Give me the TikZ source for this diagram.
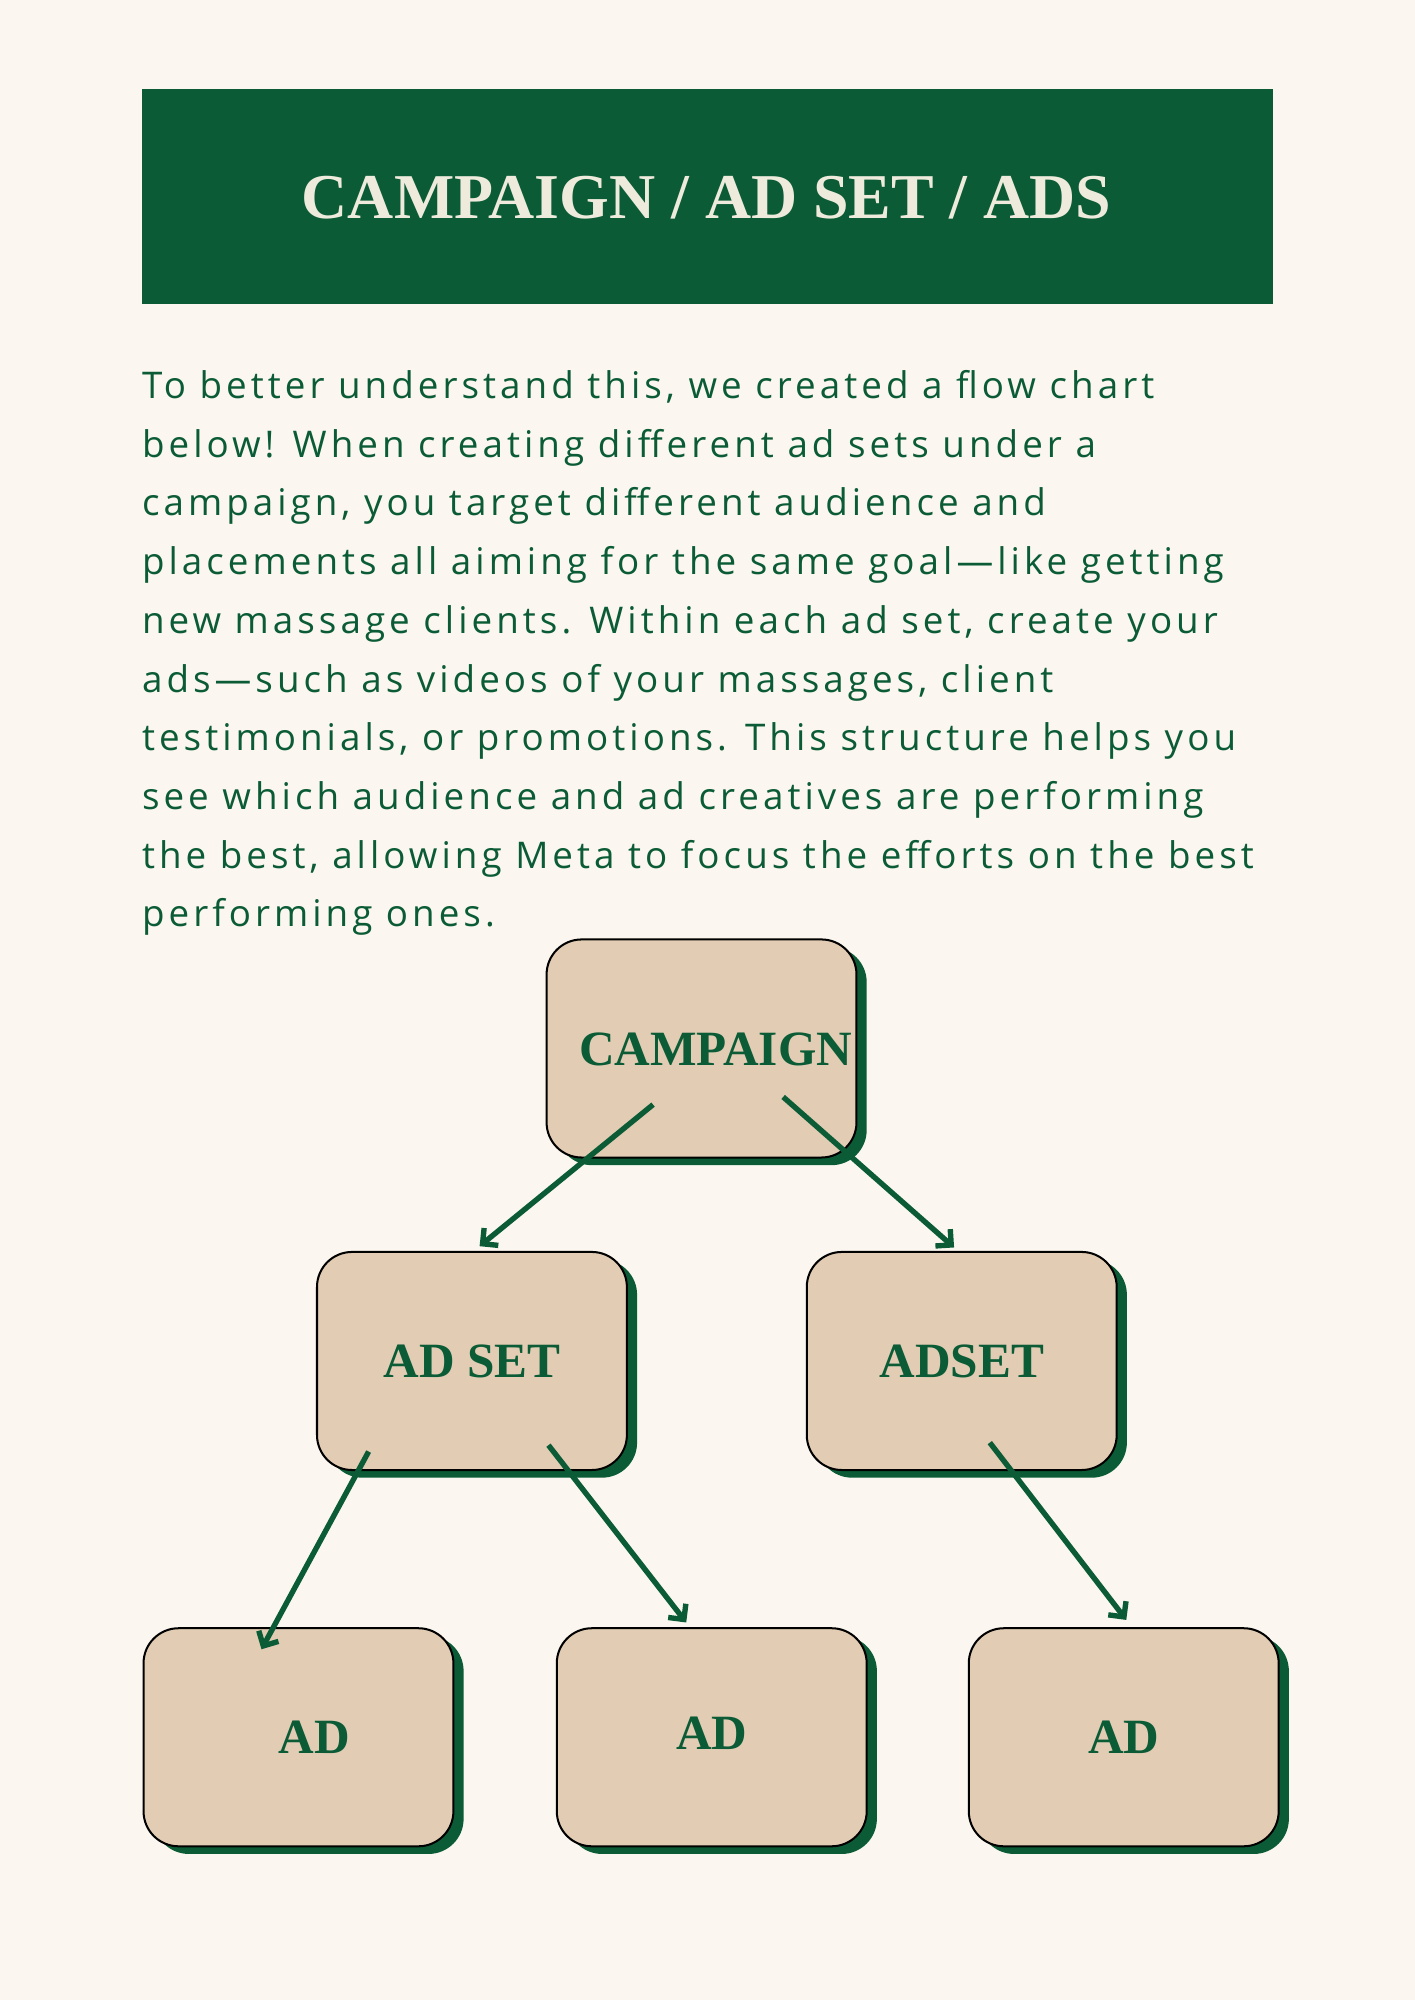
\documentclass[tikz,border=0pt]{standalone}
\usepackage{fontspec}
\setmainfont{Liberation Serif}
\newfontfamily\bodyfont[LetterSpace=11]{Open Sans}
\usetikzlibrary{shadows,arrows.meta}
\definecolor{metagreen}{HTML}{0B5C36}
\definecolor{paper}{HTML}{FBF7F0}
\definecolor{sand}{HTML}{E2CCB3}
\definecolor{cream}{HTML}{EFEBDC}
\tikzset{
  adbox/.style={draw=black, line width=0.9pt, fill=sand, rounded corners=0.55cm,
    minimum width=4.86cm, minimum height=3.42cm,
    drop shadow={shadow xshift=0.16cm, shadow yshift=-0.12cm, fill=metagreen, opacity=1},
    text=metagreen, font=\bfseries\fontsize{22}{22}\selectfont},
  flow/.style={-{Straight Barb[length=5pt,width=10pt,line width=2.4pt]}, draw=metagreen, line width=2.4pt}
}
\begin{document}
\begin{tikzpicture}[x=0.02cm,y=-0.02cm]
\fill[paper] (0,0) rectangle (1109,1568);
\useasboundingbox (0,0) rectangle (1109,1568);
\fill[metagreen] (111,70) rectangle (998,238);
\node[text=cream, font=\bfseries\fontsize{28.5}{28.5}\selectfont] (title) at (554,155) {CAMPAIGN / AD SET / ADS};
\node[anchor=north west, align=left, text=metagreen, inner sep=0pt,
  font=\bodyfont\fontsize{16.4}{26.2}\selectfont] (intro) at (111,290)
  {To better understand this, we created a flow chart\\
   below! When creating different ad sets under a\\
   campaign, you target different audience and\\
   placements all aiming for the same goal—like getting\\
   new massage clients. Within each ad set, create your\\
   ads—such as videos of your massages, client\\
   testimonials, or promotions. This structure helps you\\
   see which audience and ad creatives are performing\\
   the best, allowing Meta to focus the efforts on the best\\
   performing ones.};
% boxes
\node[adbox] (camp) at (550,822) {};
\node[text=metagreen, font=\bfseries\fontsize{22}{22}\selectfont] (camptext) at (561,823) {CAMPAIGN};
\node[adbox] (setA) at (370,1067) {AD SET};
\node[adbox] (setB) at (754,1067) {ADSET};
\node[adbox] (adA) at (234,1362) {\hspace*{0.5cm}AD};
\node[adbox] (adB) at (558,1362) {\raisebox{4pt}{AD}};
\node[adbox] (adC) at (881,1362) {AD};
% arrow ends
\coordinate (c1) at (512,866);
\coordinate (c2) at (614,860);
\coordinate (s1) at (376,977);
\coordinate (s2) at (748,978);
\coordinate (a1) at (289,1138);
\coordinate (a2) at (430,1133);
\coordinate (a3) at (776,1131);
\coordinate (e1) at (205,1293);
\coordinate (e2) at (538,1272);
\coordinate (e3) at (883,1270);
\draw[flow] (c1) -- (s1);
\draw[flow] (c2) -- (s2);
\draw[flow] (a1) -- (e1);
\draw[flow] (a2) -- (e2);
\draw[flow] (a3) -- (e3);
\end{tikzpicture}
\end{document}
